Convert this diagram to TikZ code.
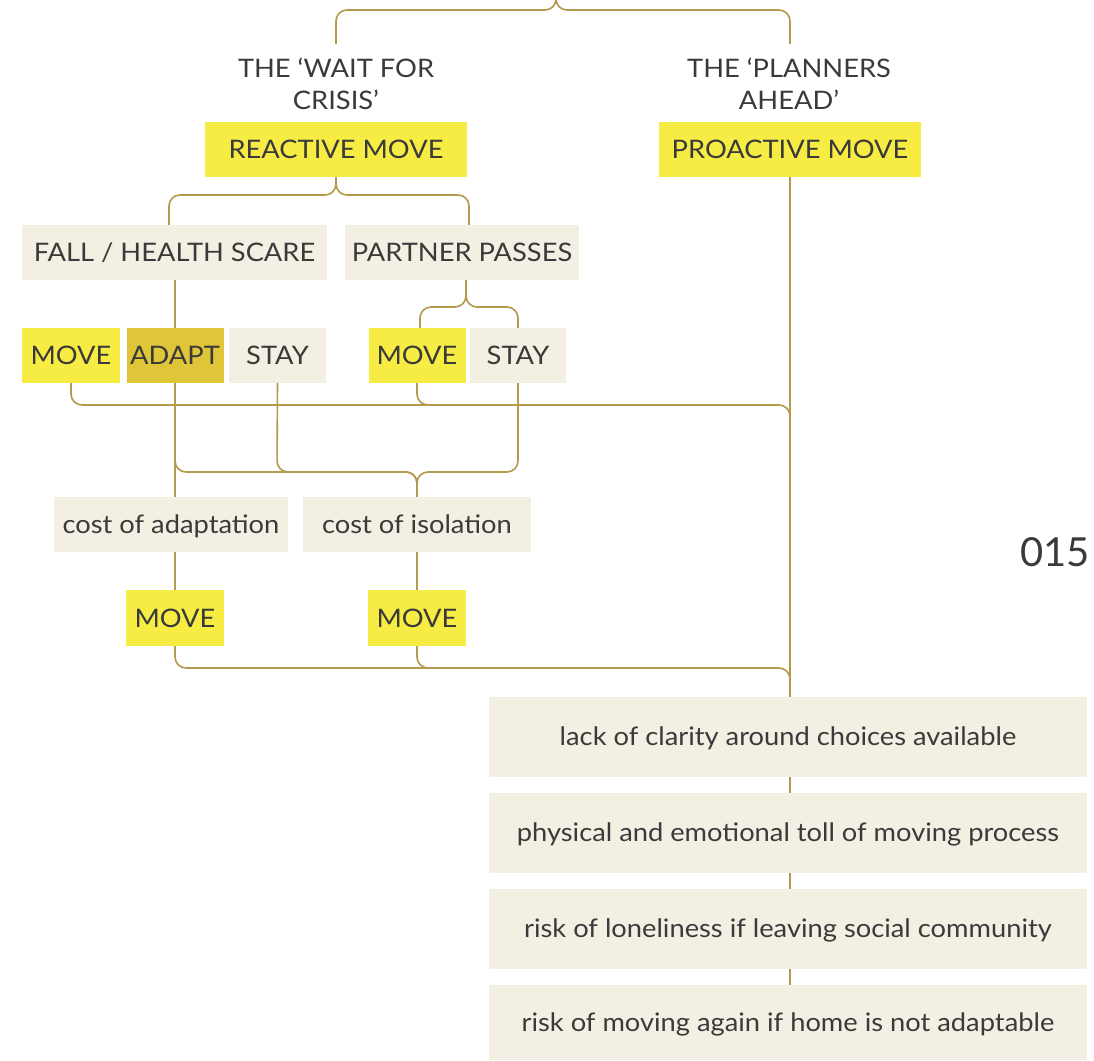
\documentclass[tikz,border=0pt]{standalone}
\usepackage{fontspec}
\setmainfont{Lato}[FakeStretch=1.07]
\newfontfamily\numfont{Lato}
\usetikzlibrary{backgrounds}
\definecolor{ink}{HTML}{3A3A3A}
\definecolor{gold}{HTML}{B49A4C}
\definecolor{lemon}{HTML}{F7EC43}
\definecolor{mustard}{HTML}{DFC639}
\definecolor{cream}{HTML}{F3EFE3}
\begin{document}
\begin{tikzpicture}[x=1pt,y=-1pt,
  box/.style={inner sep=0pt, minimum height=55pt, text=ink, font=\fontsize{25.5}{30}\selectfont},
  hot/.style={box, fill=lemon},
  warm/.style={box, fill=mustard},
  calm/.style={box, fill=cream},
  lower/.style={text height=22pt, text depth=5pt},
  wide/.style={calm, lower, minimum width=598pt, minimum height=80pt},
  title/.style={text=ink, align=center, inner sep=0pt, font=\fontsize{25.5}{32}\selectfont},
  wire/.style={draw=gold, line width=1.6pt, rounded corners=11pt}]
\useasboundingbox (0,0) rectangle (1094,1060);

% headings
\node[title] (wait) at (336,84) {THE ‘WAIT FOR\\CRISIS’};
\node[title] (plan) at (789,84) {THE ‘PLANNERS\\AHEAD’};
\coordinate (root) at (556,0);

% main choices
\node[hot, minimum width=262pt] (react) at (336,149.5) {REACTIVE MOVE};
\node[hot, minimum width=262pt] (proact) at (790,149.5) {PROACTIVE MOVE};

% triggers
\node[calm, minimum width=305pt] (fall) at (174.5,252.5) {FALL / HEALTH SCARE};
\node[calm, minimum width=234pt] (partner) at (462,252.5) {PARTNER PASSES};

% responses
\node[hot, minimum width=98pt] (mvA) at (71,355.5) {MOVE};
\node[warm, minimum width=97pt] (adapt) at (175,355.5) {ADAPT};
\node[calm, minimum width=97pt] (stayA) at (277.5,355.5) {STAY};
\node[hot, minimum width=97pt] (mvB) at (417,355.5) {MOVE};
\node[calm, minimum width=96pt] (stayB) at (518,355.5) {STAY};

% consequences
\node[calm, lower, minimum width=234pt] (costA) at (171,524.5) {cost of adaptation};
\node[calm, lower, minimum width=228pt] (costB) at (417,524.5) {cost of isolation};
\node[hot, minimum width=98pt, minimum height=56pt] (mvC) at (175,618) {MOVE};
\node[hot, minimum width=98pt, minimum height=56pt] (mvD) at (417,618) {MOVE};

% barriers to moving
\node[wide] (b1) at (788,737) {lack of clarity around choices available};
\node[wide] (b2) at (788,833) {physical and emotional toll of moving process};
\node[wide] (b3) at (788,929) {risk of loneliness if leaving social community};
\node[wide, minimum height=75pt] (b4) at (788,1022.5) {risk of moving again if home is not adaptable};

% page number
\node[text=ink, inner sep=0pt, font=\numfont\fontsize{40}{40}\selectfont] (page) at (1055,552) {015};

\begin{scope}[on background layer]
  \fill[white] (0,0) rectangle (1094,1060);
  % top split
  \draw[wire] ([yshift=14pt]wait.north) -- (336,10) -- (root |- 0,10) -- (root);
  \draw[wire] ([yshift=14pt]plan.north -| proact.north) -- (790,10) -- (root |- 0,10) -- (root);
  % reactive split
  \draw[wire] (react.south) -- (336,195) -- (169,195) -- (169,225);
  \draw[wire] (react.south) -- (336,195) -- (469,195) -- (469,225);
  % partner split
  \draw[wire] (partner.south -| 466,0) -- (466,307) -- (420,307) -- (420,328);
  \draw[wire] (partner.south -| 466,0) -- (466,307) -- (518,307) -- (518,328);
  % fall through adapt to cost of adaptation
  \draw[wire] (fall.south -| adapt.south) -- (adapt.south |- costA.north);
  % into cost of isolation
  \draw[wire] (adapt.south) -- (175,472) -- (417,472) -- (costB.north);
  \draw[wire] (stayA.south) -- (277,472) -- (417,472) -- (costB.north);
  \draw[wire] (stayB.south) -- (518,472) -- (417,472) -- (costB.north);
  % moves join the planned route
  \draw[wire] (mvA.south) -- (71,405) -- (790,405) -- (790,440);
  \draw[wire] (mvB.south) -- (417,405) -- (520,405);
  \draw[wire] (mvC.north |- costA.south) -- (mvC.north);
  \draw[wire] (costB.south) -- (mvD.north);
  \draw[wire] (mvC.south) -- (175,668) -- (790,668) -- (790,697);
  \draw[wire] (mvD.south) -- (417,668) -- (520,668);
  % planned route down through the barriers
  \draw[wire] (proact.south) -- (proact.south |- b4.north);
\end{scope}
\end{tikzpicture}
\end{document}
